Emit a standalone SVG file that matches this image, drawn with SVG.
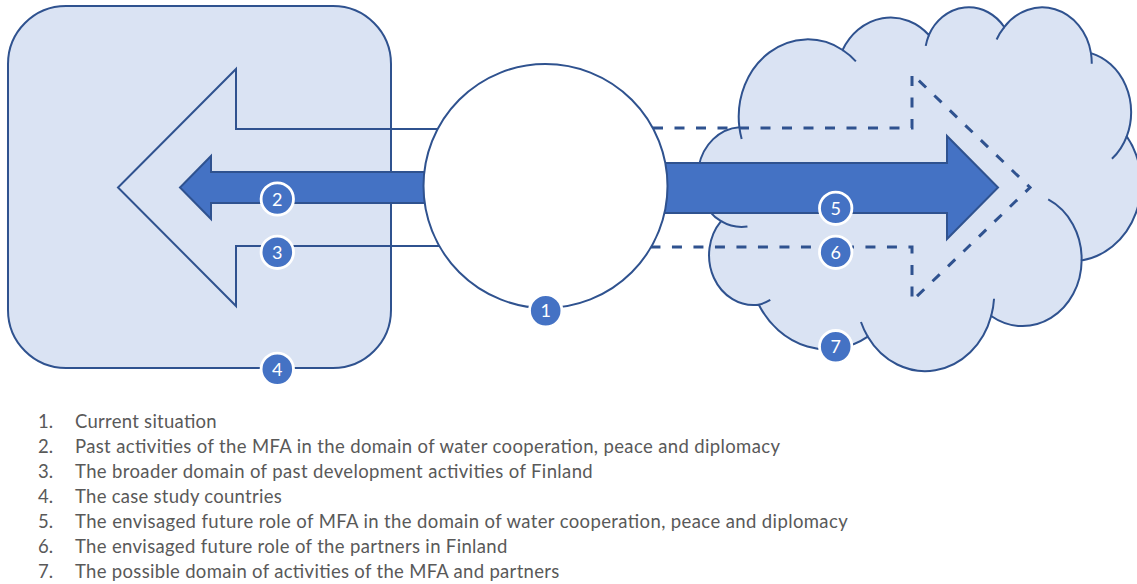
<svg xmlns="http://www.w3.org/2000/svg" width="1137" height="584" viewBox="0 0 1137 584">
  <style>
    .area { fill: #DAE3F3; stroke: #2F528F; stroke-width: 2; }
    .line { fill: none; stroke: #2F528F; stroke-width: 2; }
    .solid { fill: #4472C4; stroke: #2F528F; stroke-width: 2; stroke-linejoin: miter; }
    .dash { fill: none; stroke: #2F528F; stroke-width: 3; stroke-dasharray: 10 11.5; }
    .hub { fill: #FFFFFF; stroke: #2F528F; stroke-width: 2; }
    .badge circle { fill: #4472C4; stroke: #FFFFFF; stroke-width: 2.8; }
    .badge text { fill: #FFFFFF; font-family: Lato, "Liberation Sans", sans-serif; font-size: 18px; text-anchor: middle; }
    .legend text { fill: #595959; font-family: Lato, "Liberation Sans", sans-serif; font-size: 18.5px; }
  </style>

  <rect width="1137" height="584" fill="#FFFFFF"/>

  <!-- case study countries -->
  <g id="countries">
    <rect class="area" x="8" y="6" width="383" height="362" rx="58" ry="58"/>
  </g>

  <!-- possible future domain (cloud) -->
  <g id="future-domain">
    <path class="area" d="M 739.35 127.17
      A 69.00 77.36 0 0 1 842.59 49.98
      A 54.49 61.17 0 0 1 928.88 35.01
      A 44.60 50.04 0 0 1 1004.26 27.03
      A 49.63 55.52 0 0 1 1090.96 53.10
      A 54.49 61.22 0 0 1 1126.74 136.31
      A 69.23 77.61 0 0 1 1081.63 260.40
      A 59.11 66.22 0 0 1 991.19 316.02
      A 68.99 77.57 0 0 1 867.81 336.68
      A 78.88 88.75 0 0 1 758.80 304.73
      A 44.55 49.82 0 0 1 721.07 221.21
      A 44.40 50.04 0 0 1 739.35 127.17 Z"/>
    <path class="line" d="M 747.45 226.56 A 44.40 50.04 0 0 1 721.07 221.21
      M 770.29 299.98 A 44.55 49.82 0 0 1 758.80 304.73
      M 867.81 336.68 A 68.99 77.57 0 0 1 860.96 321.97
      M 994.05 298.73 A 68.99 77.57 0 0 1 991.19 316.02
      M 1048.23 199.43 A 59.11 66.22 0 0 1 1081.63 260.40
      M 1126.74 136.31 A 54.49 61.22 0 0 1 1111.94 158.84
      M 1090.96 53.10 A 49.63 55.52 0 0 1 1091.73 63.73
      M 996.62 39.47 A 49.63 55.52 0 0 1 1004.26 27.03
      M 925.74 45.93 A 44.60 50.04 0 0 1 928.88 35.01
      M 842.59 49.98 A 69.00 77.36 0 0 1 855.87 61.33
      M 741.67 139.11 A 69.00 77.36 0 0 1 739.35 127.17"/>
  </g>

  <!-- connectors -->
  <g id="connectors">
    <path id="past-development" class="line" d="M 545 129 L 236 129 L 236 69 L 118 187.5 L 236 306 L 236 246 L 545 246"/>
    <polygon id="past-mfa" class="solid" points="545,172 211,172 211,156 180,187.5 211,219 211,203 545,203"/>
    <polygon id="future-mfa" class="solid" points="545,163 947,163 947,136 998,187.5 947,239 947,213 545,213"/>
    <path id="future-partners" class="dash" d="M 653 128 H 912 V 74 L 1030 187.5 L 912 301 V 247 H 651"/>
  </g>

  <!-- current situation -->
  <g id="current">
    <circle class="hub" cx="545.5" cy="186" r="122"/>
  </g>

  <!-- numbered markers -->
  <g id="badge-1" class="badge"><circle cx="545.7" cy="310.7" r="16.2"/><text x="545.7" y="317.2">1</text></g>
  <g id="badge-2" class="badge"><circle cx="277.3" cy="199" r="16.2"/><text x="277.3" y="205.5">2</text></g>
  <g id="badge-3" class="badge"><circle cx="277.3" cy="252.3" r="16.2"/><text x="277.3" y="258.8">3</text></g>
  <g id="badge-4" class="badge"><circle cx="277.3" cy="369.3" r="16.2"/><text x="277.3" y="375.8">4</text></g>
  <g id="badge-5" class="badge"><circle cx="835.7" cy="208.3" r="16.2"/><text x="835.7" y="214.8">5</text></g>
  <g id="badge-6" class="badge"><circle cx="835.7" cy="252.3" r="16.2"/><text x="835.7" y="258.8">6</text></g>
  <g id="badge-7" class="badge"><circle cx="835.7" cy="346.7" r="16.2"/><text x="835.7" y="353.2">7</text></g>

  <!-- legend -->
  <g id="legend" class="legend">
    <text x="38" y="428">1.</text>
    <text x="75" y="428" textLength="141.7" lengthAdjust="spacing">Current situation</text>
    <text x="38" y="453">2.</text>
    <text x="75" y="453" textLength="705" lengthAdjust="spacing">Past activities of the MFA in the domain of water cooperation, peace and diplomacy</text>
    <text x="38" y="478">3.</text>
    <text x="75" y="478" textLength="517.7" lengthAdjust="spacing">The broader domain of past development activities of Finland</text>
    <text x="38" y="503">4.</text>
    <text x="75" y="503" textLength="206.7" lengthAdjust="spacing">The case study countries</text>
    <text x="38" y="528">5.</text>
    <text x="75" y="528" textLength="772.7" lengthAdjust="spacing">The envisaged future role of MFA in the domain of water cooperation, peace and diplomacy</text>
    <text x="38" y="553">6.</text>
    <text x="75" y="553" textLength="432.3" lengthAdjust="spacing">The envisaged future role of the partners in Finland</text>
    <text x="38" y="578">7.</text>
    <text x="75" y="578" textLength="484.3" lengthAdjust="spacing">The possible domain of activities of the MFA and partners</text>
  </g>
</svg>
